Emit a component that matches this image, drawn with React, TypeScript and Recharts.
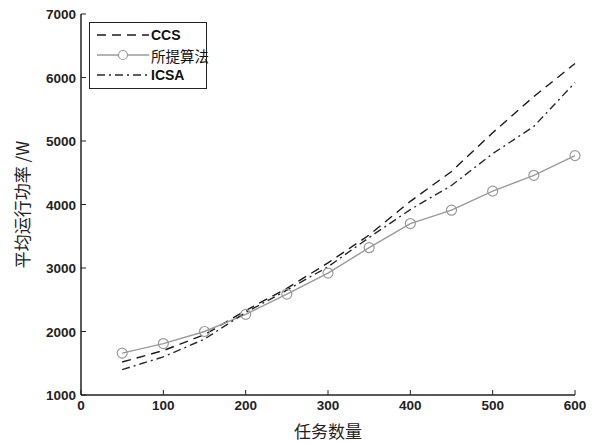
import React from "react";
import { LineChart, Line, XAxis, YAxis } from "recharts";

// 任务数量
const taskCounts = [50, 100, 150, 200, 250, 300, 350, 400, 450, 500, 550, 600];
// 平均运行功率 (W)
const ccsPower = [1520, 1700, 1950, 2330, 2680, 3080, 3520, 4050, 4520, 5130, 5700, 6220];
const proposedPower = [1660, 1810, 2000, 2270, 2590, 2920, 3320, 3700, 3910, 4210, 4460, 4770];
const icsaPower = [1400, 1600, 1880, 2300, 2650, 3020, 3480, 3920, 4300, 4800, 5230, 5920];

const xTicks = [0, 100, 200, 300, 400, 500, 600];
const yTicks = [1000, 2000, 3000, 4000, 5000, 6000, 7000];

const data = taskCounts.map((n, i) => ({
  n,
  ccs: ccsPower[i],
  proposed: proposedPower[i],
  icsa: icsaPower[i],
}));

const series = [
  { key: "ccs", name: "CCS", color: "#1a1a1a", dash: "9 6", dot: false },
  { key: "proposed", name: "所提算法", color: "#9a9a9a", dash: undefined, dot: true },
  { key: "icsa", name: "ICSA", color: "#2a2a2a", dash: "8 4 2 4", dot: false },
];

const tickFont = "'Liberation Sans', Arial, sans-serif";
const cjkFont = "'Noto Sans CJK SC', sans-serif";

const BottomTick = ({ x, y, payload }: any) => (
  <g>
    <line x1={x} y1={y} x2={x} y2={y - 5} stroke="#222" />
    <text x={x} y={y + 15} textAnchor="middle" fontSize={13.5} fontWeight="bold" fill="#222" fontFamily={tickFont}>
      {payload.value}
    </text>
  </g>
);

const LeftTick = ({ x, y, payload }: any) => (
  <g>
    <line x1={x} y1={y} x2={x + 5} y2={y} stroke="#222" />
    <text x={x - 5} y={y + 5} textAnchor="end" fontSize={13.5} fontWeight="bold" fill="#222" fontFamily={tickFont}>
      {payload.value}
    </text>
  </g>
);

const TopTick = ({ x, y }: any) => <line x1={x} y1={y} x2={x} y2={y + 5} stroke="#222" />;
const RightTick = ({ x, y }: any) => <line x1={x} y1={y} x2={x - 5} y2={y} stroke="#222" />;

const LegendBox = () => (
  <div
    style={{
      position: "absolute",
      left: 89,
      top: 22,
      width: 116,
      border: "1px solid #222",
      background: "#fff",
      padding: "2px 0 3px",
      fontFamily: tickFont,
    }}
  >
    {series.map((s) => (
      <div key={s.key} style={{ display: "flex", alignItems: "center", height: 20, whiteSpace: "nowrap" }}>
        <svg width={54} height={20} style={{ marginLeft: 7, flex: "none" }}>
          <line x1={0} y1={10} x2={52} y2={10} stroke={s.color} strokeWidth={1.5} strokeDasharray={s.dash} />
          {s.dot && <circle cx={26} cy={10} r={4.5} fill="#fff" stroke={s.color} strokeWidth={1.2} />}
        </svg>
        <span
          style={{
            fontSize: s.key === "proposed" ? 14.5 : 14,
            fontWeight: s.key === "proposed" ? "normal" : "bold",
            fontFamily: s.key === "proposed" ? cjkFont : tickFont,
            color: "#111",
          }}
        >
          {s.name}
        </span>
      </div>
    ))}
  </div>
);

export default function App() {
  return (
    <div style={{ position: "absolute", left: 0, top: 0, width: 593, height: 443, background: "#fff" }}>
      <LineChart width={593} height={443} data={data} margin={{ top: 14, right: 18, bottom: 0, left: 0 }}>
        <XAxis
          dataKey="n"
          type="number"
          domain={[0, 600]}
          ticks={xTicks}
          height={48}
          tickSize={0}
          tickMargin={0}
          tick={<BottomTick />}
          axisLine={{ stroke: "#222", strokeWidth: 1.5 }}
          label={{ value: "任务数量", position: "insideBottom", offset: 5, fontSize: 17, fill: "#222", fontFamily: cjkFont }}
        />
        <XAxis
          xAxisId="top"
          orientation="top"
          dataKey="n"
          type="number"
          domain={[0, 600]}
          ticks={xTicks}
          height={0}
          tickSize={0}
          tickMargin={0}
          tick={<TopTick />}
          axisLine={{ stroke: "#222", strokeWidth: 1.2 }}
        />
        <YAxis
          type="number"
          domain={[1000, 7000]}
          ticks={yTicks}
          width={81}
          tickSize={0}
          tickMargin={0}
          tick={<LeftTick />}
          axisLine={{ stroke: "#222", strokeWidth: 1.5 }}
          label={{
            value: "平均运行功率 /W",
            angle: -90,
            position: "insideLeft",
            offset: 23,
            fontSize: 17,
            fill: "#222",
            fontFamily: cjkFont,
            style: { textAnchor: "middle" },
          }}
        />
        <YAxis
          yAxisId="right"
          orientation="right"
          type="number"
          domain={[1000, 7000]}
          ticks={yTicks}
          width={0}
          tickSize={0}
          tickMargin={0}
          tick={<RightTick />}
          axisLine={{ stroke: "#222", strokeWidth: 1.2 }}
        />
        {series.map((s) => (
          <Line
            key={s.key}
            dataKey={s.key}
            name={s.name}
            stroke={s.color}
            strokeWidth={1.4}
            strokeDasharray={s.dash}
            dot={s.dot ? { r: 5, fill: "none", stroke: s.color, strokeWidth: 1.2 } : false}
            isAnimationActive={false}
          />
        ))}
      </LineChart>
      <LegendBox />
    </div>
  );
}
